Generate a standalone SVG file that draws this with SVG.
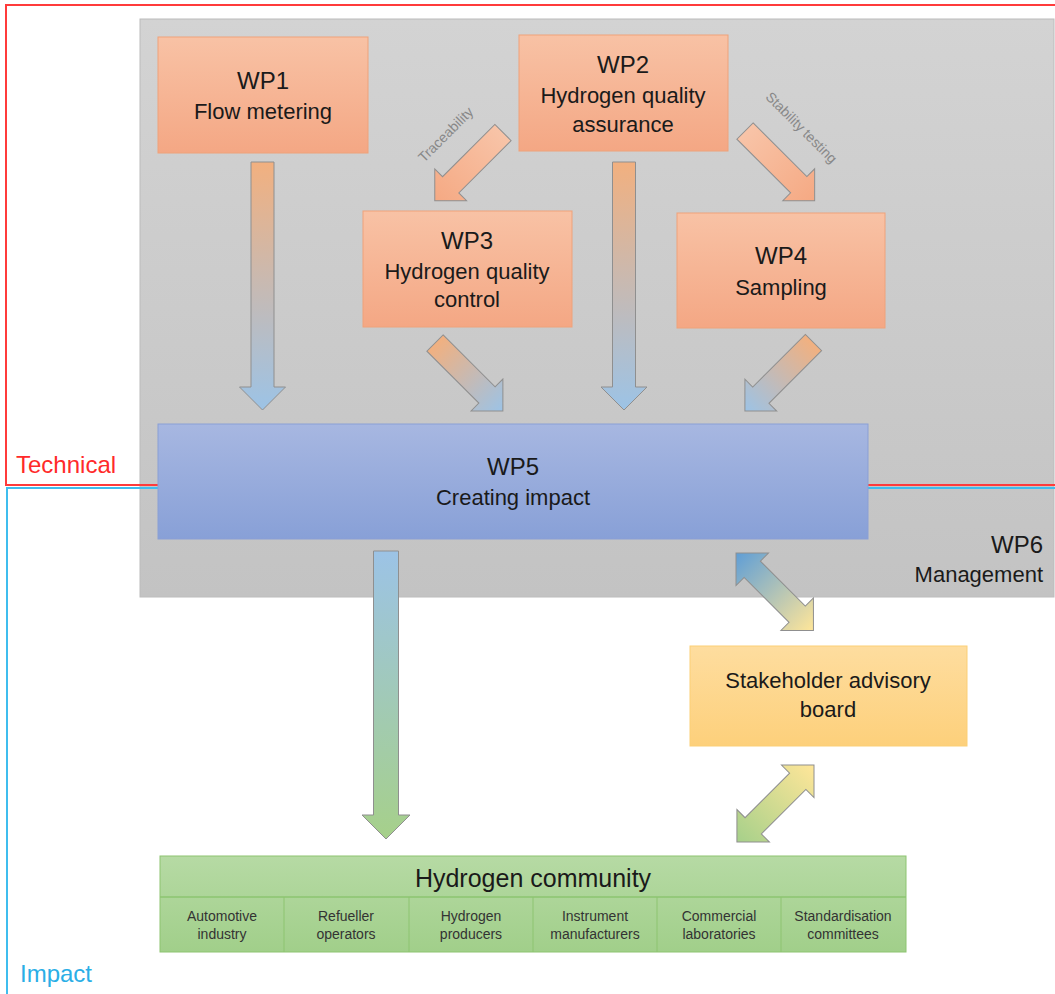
<svg xmlns="http://www.w3.org/2000/svg" width="1055" height="994" viewBox="0 0 1055 994">
<defs>
<linearGradient id="gGray" x1="0" y1="0" x2="0" y2="1"><stop offset="0" stop-color="#d3d3d3"/><stop offset="1" stop-color="#c3c3c3"/></linearGradient>
<linearGradient id="gOrange" x1="0" y1="0" x2="0" y2="1"><stop offset="0" stop-color="#f8c2a5"/><stop offset="1" stop-color="#f4a784"/></linearGradient>
<linearGradient id="gBlue" x1="0" y1="0" x2="0" y2="1"><stop offset="0" stop-color="#a7b7e1"/><stop offset="1" stop-color="#88a0d7"/></linearGradient>
<linearGradient id="gYellow" x1="0" y1="0" x2="0" y2="1"><stop offset="0" stop-color="#fedd9f"/><stop offset="1" stop-color="#fdd07b"/></linearGradient>
<linearGradient id="gGreen" x1="0" y1="0" x2="0" y2="1"><stop offset="0" stop-color="#b6daa4"/><stop offset="1" stop-color="#a1cf8a"/></linearGradient>
<linearGradient id="aOB" x1="0" y1="0" x2="1" y2="0"><stop offset="0" stop-color="#f2b07f"/><stop offset="1" stop-color="#9cc3e6"/></linearGradient>
<linearGradient id="aO" x1="0" y1="0" x2="1" y2="0"><stop offset="0" stop-color="#f8c4a8"/><stop offset="1" stop-color="#f5a983"/></linearGradient>
<linearGradient id="aBG" x1="0" y1="0" x2="1" y2="0"><stop offset="0" stop-color="#9cc3e6"/><stop offset="1" stop-color="#a6d08a"/></linearGradient>
<linearGradient id="aBY" x1="0" y1="0" x2="1" y2="0"><stop offset="0" stop-color="#5f9ed6"/><stop offset="1" stop-color="#ffe699"/></linearGradient>
<linearGradient id="aYG" x1="0" y1="0" x2="1" y2="0"><stop offset="0" stop-color="#ffe699"/><stop offset="1" stop-color="#a6d08a"/></linearGradient>
</defs>
<style>
text{font-family:"Liberation Sans",Arial,sans-serif;fill:#1a1a1a;text-anchor:middle}
.t{font-size:24px}
.s{font-size:22px}
.c{font-size:14px;fill:#333}
.lbl{font-size:14px;fill:#888}
.wp{fill:url(#gOrange);stroke:#efa27a;stroke-width:1}
.arr{stroke:#8f8f8f;stroke-width:1}
</style>
<rect width="1055" height="994" fill="#ffffff"/>

<g id="WP6">
<rect x="140" y="19" width="914" height="578" fill="url(#gGray)" stroke="#bcbcbc" stroke-width="1"/>
<text class="t" x="1043" y="553" style="text-anchor:end">WP6</text>
<text class="s" x="1043" y="582" style="text-anchor:end">Management</text>
</g>

<g id="regions">
<polyline points="1055,5 6,5 6,485 1055,485" fill="none" stroke="#ff3b3b" stroke-width="2"/>
<polyline points="1055,488 7,488 7,994" fill="none" stroke="#3fbdee" stroke-width="2"/>
<text x="16" y="473" style="font-size:24px;fill:#ff2a2a;text-anchor:start">Technical</text>
<text x="20" y="982" style="font-size:24px;fill:#2aaee6;text-anchor:start">Impact</text>
</g>

<g id="WP1">
<rect class="wp" x="158" y="37" width="210" height="116"/>
<text class="t" x="263" y="89">WP1</text>
<text class="s" x="263" y="119">Flow metering</text>
</g>
<g id="WP2">
<rect class="wp" x="519" y="35" width="209" height="116"/>
<text class="t" x="623" y="73">WP2</text>
<text class="s" x="623" y="103">Hydrogen quality</text>
<text class="s" x="623" y="132">assurance</text>
</g>
<g id="WP3">
<rect class="wp" x="363" y="211" width="209" height="116"/>
<text class="t" x="467" y="249">WP3</text>
<text class="s" x="467" y="279">Hydrogen quality</text>
<text class="s" x="467" y="307">control</text>
</g>
<g id="WP4">
<rect class="wp" x="677" y="213" width="208" height="115"/>
<text class="t" x="781" y="264">WP4</text>
<text class="s" x="781" y="295">Sampling</text>
</g>
<g id="WP5">
<rect x="158" y="424" width="710" height="115" fill="url(#gBlue)" stroke="#8a9fd5" stroke-width="1"/>
<text class="t" x="513" y="475">WP5</text>
<text class="s" x="513" y="505">Creating impact</text>
</g>
<g id="stakeholder">
<rect x="690" y="646" width="277" height="100" fill="url(#gYellow)" stroke="#fbcf77" stroke-width="1"/>
<text class="s" x="828" y="688">Stakeholder advisory</text>
<text class="s" x="828" y="717">board</text>
</g>
<g id="community">
<rect x="160" y="856" width="746" height="96" fill="url(#gGreen)" stroke="#8dc471" stroke-width="1"/>
<line x1="160" y1="897" x2="906" y2="897" stroke="#8dc471" stroke-width="1.5"/>
<g stroke="#8dc471" stroke-width="1">
<line x1="284" y1="897" x2="284" y2="952"/>
<line x1="409" y1="897" x2="409" y2="952"/>
<line x1="533" y1="897" x2="533" y2="952"/>
<line x1="657" y1="897" x2="657" y2="952"/>
<line x1="781" y1="897" x2="781" y2="952"/>
</g>
<text x="533" y="887" style="font-size:25px">Hydrogen community</text>
<text class="c" x="222" y="921">Automotive</text><text class="c" x="222" y="939">industry</text>
<text class="c" x="346" y="921">Refueller</text><text class="c" x="346" y="939">operators</text>
<text class="c" x="471" y="921">Hydrogen</text><text class="c" x="471" y="939">producers</text>
<text class="c" x="595" y="921">Instrument</text><text class="c" x="595" y="939">manufacturers</text>
<text class="c" x="719" y="921">Commercial</text><text class="c" x="719" y="939">laboratories</text>
<text class="c" x="843" y="921">Standardisation</text><text class="c" x="843" y="939">committees</text>
</g>

<g id="connectors">
<polygon class="arr" fill="url(#aOB)" transform="translate(262.5,162) rotate(90)" points="0,-11.5 225,-11.5 225,-23 248,0 225,23 225,11.5 0,11.5"/>
<polygon class="arr" fill="url(#aOB)" transform="translate(624,162) rotate(90)" points="0,-11.5 225,-11.5 225,-23 248,0 225,23 225,11.5 0,11.5"/>
<polygon class="arr" fill="url(#aO)" transform="translate(503,132.5) rotate(135)" points="0,-11.5 74,-11.5 74,-22.5 96.5,0 74,22.5 74,11.5 0,11.5"/>
<polygon class="arr" fill="url(#aO)" transform="translate(745,131) rotate(45)" points="0,-11.5 76,-11.5 76,-22.5 98.5,0 76,22.5 76,11.5 0,11.5"/>
<polygon class="arr" fill="url(#aOB)" transform="translate(435,343) rotate(45)" points="0,-11.5 73.5,-11.5 73.5,-22.5 96,0 73.5,22.5 73.5,11.5 0,11.5"/>
<polygon class="arr" fill="url(#aOB)" transform="translate(813.5,342.5) rotate(135)" points="0,-11.5 74.5,-11.5 74.5,-22.5 97,0 74.5,22.5 74.5,11.5 0,11.5"/>
<polygon class="arr" fill="url(#aBG)" transform="translate(386,551) rotate(90)" points="0,-12.5 264,-12.5 264,-24 288,0 264,24 264,12.5 0,12.5"/>
<polygon class="arr" fill="url(#aBY)" transform="translate(736,553) rotate(45)" points="0,0 23,-23 23,-11.5 86.5,-11.5 86.5,-23 109.5,0 86.5,23 86.5,11.5 23,11.5 23,23"/>
<polygon class="arr" fill="url(#aYG)" transform="translate(814,765) rotate(135)" points="0,0 23,-23 23,-11.5 86,-11.5 86,-23 109,0 86,23 86,11.5 23,11.5 23,23"/>
<text class="lbl" transform="translate(449,138) rotate(-45)">Traceability</text>
<text class="lbl" transform="translate(798,131) rotate(45)">Stability testing</text>
</g>
</svg>
